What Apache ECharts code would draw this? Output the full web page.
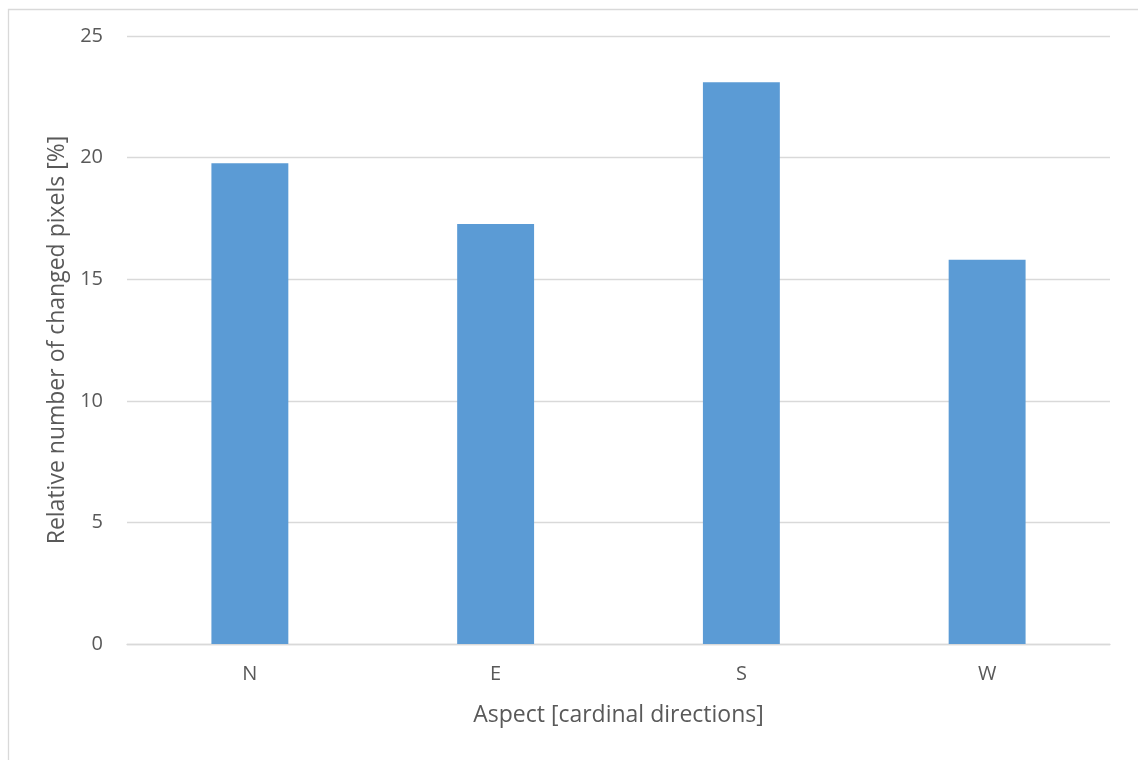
<!DOCTYPE html>
<html>
<head>
<meta charset="utf-8">
<script src="https://cdn.jsdelivr.net/npm/echarts@6/dist/echarts.min.js"></script>
<style>
  html, body { margin: 0; padding: 0; background: #ffffff; }
  #chart { width: 1138px; height: 760px; }
</style>
</head>
<body>
<div id="chart"></div>
<script>
// Share of changed pixels per aspect class
const directions = ['N', 'E', 'S', 'W'];
const changedPixels = [19.77, 17.27, 23.1, 15.8];
const yTicks = [0, 5, 10, 15, 20, 25];

const textColor = '#595959';
const lineColor = '#D9D9D9';
const fontFamily = '"Open Sans", "Noto Sans", sans-serif';

const chart = echarts.init(document.getElementById('chart'), null, { renderer: 'canvas' });

chart.setOption({
  animation: false,
  backgroundColor: '#ffffff',
  graphic: [{
    type: 'rect',
    left: 6,
    top: 7,
    shape: { width: 1200, height: 800 },
    style: { fill: 'none', stroke: lineColor, lineWidth: 1.3 },
    silent: true
  }],
  grid: { left: 127, right: 28, top: 36, bottom: 116 },
  xAxis: {
    type: 'category',
    data: directions,
    name: 'Aspect [cardinal directions]',
    nameLocation: 'middle',
    nameGap: 60,
    nameTextStyle: { color: textColor, fontSize: 23, fontFamily: fontFamily },
    axisLine: { show: true, lineStyle: { color: lineColor, width: 1.3 } },
    axisTick: { show: false },
    axisLabel: { color: textColor, fontSize: 20, fontFamily: fontFamily, margin: 20 }
  },
  yAxis: {
    type: 'value',
    min: yTicks[0],
    max: yTicks[yTicks.length - 1],
    interval: yTicks[1] - yTicks[0],
    name: 'Relative number of changed pixels [%]',
    nameLocation: 'middle',
    nameGap: 56,
    nameTextStyle: { color: textColor, fontSize: 23, fontFamily: fontFamily },
    axisLine: { show: false },
    axisTick: { show: false },
    axisLabel: { color: textColor, fontSize: 20, fontFamily: fontFamily, margin: 24 },
    splitLine: { lineStyle: { color: lineColor, width: 1.3 } }
  },
  series: [{
    type: 'bar',
    data: changedPixels,
    barCategoryGap: '68.7%',
    itemStyle: { color: '#5B9BD5' }
  }]
});
</script>
</body>
</html>
